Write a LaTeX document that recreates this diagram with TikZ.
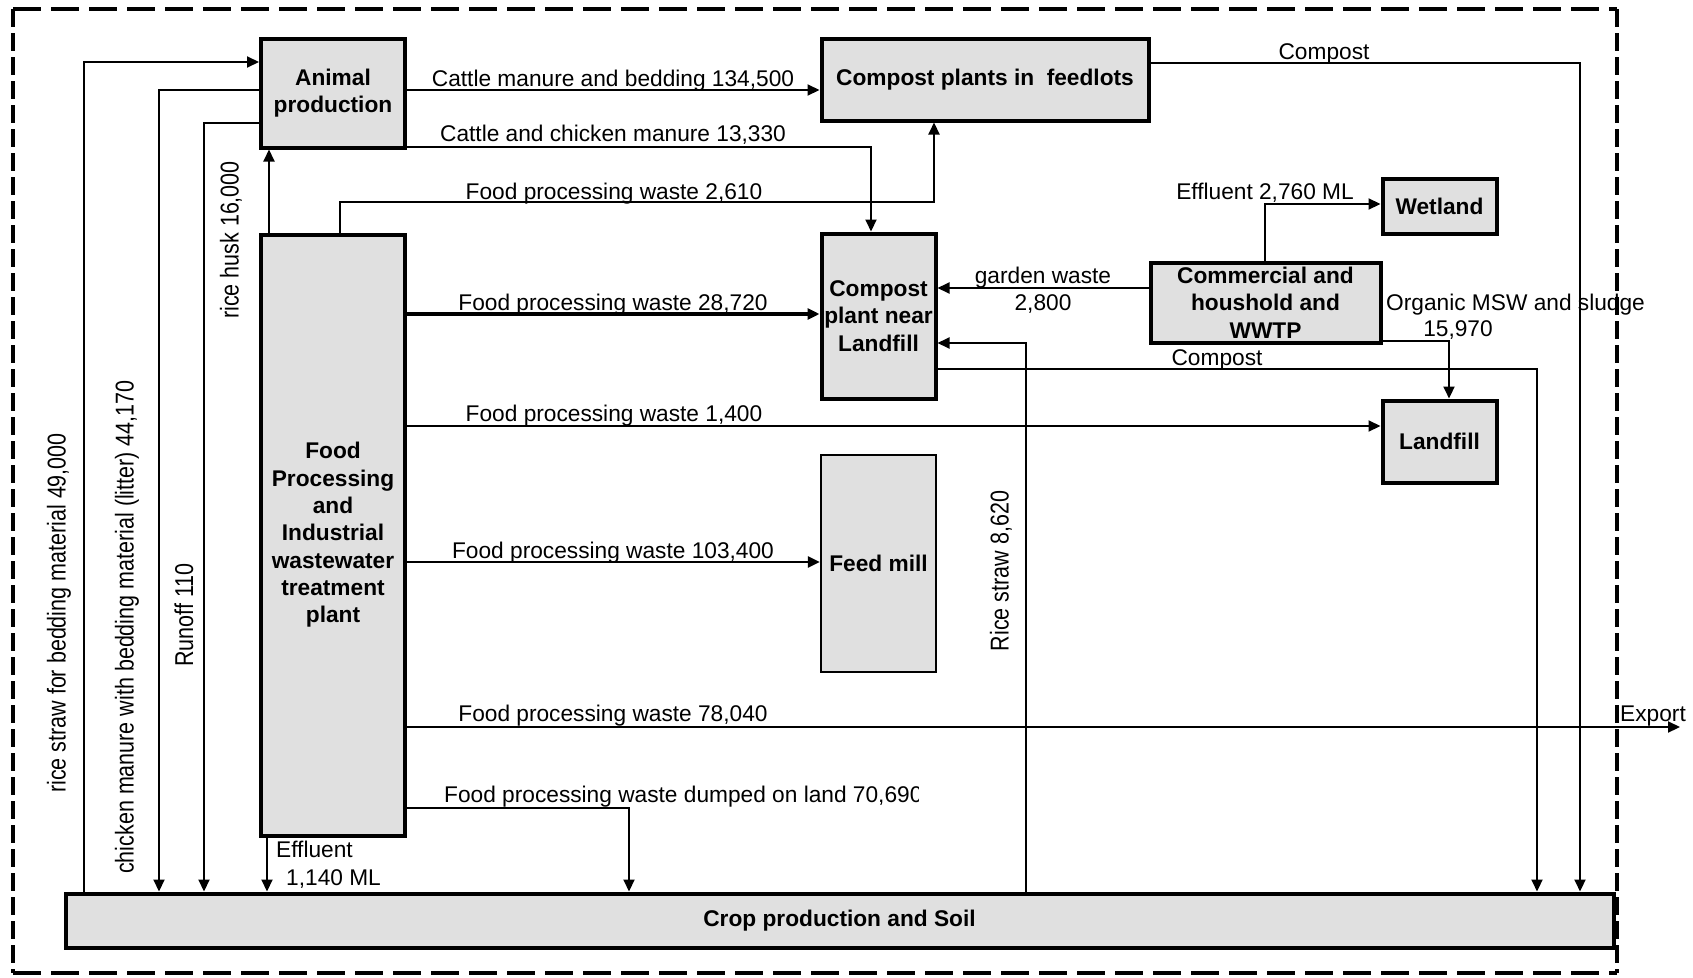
\documentclass[tikz,border=0pt]{standalone}
\usepackage{fontspec}
\setmainfont{Liberation Sans}
\usetikzlibrary{arrows.meta}
\definecolor{boxgray}{RGB}{224,224,224}
\begin{document}
\begin{tikzpicture}[x=1pt,y=-1pt,
  box/.style={draw=black, fill=boxgray, line width=4pt, inner sep=0pt, align=center,
              font=\bfseries\fontsize{22.7}{27.3}\selectfont},
  flow/.style={line width=2pt, -{Triangle[length=12pt,width=11pt]}},
  heavy/.style={line width=3.2pt},
  lbl/.style={inner sep=0pt, anchor=base, font=\fontsize{22.7}{27.3}\selectfont},
  vlbl/.style={inner sep=0pt, rotate=90, font=\fontsize{21.5}{26}\selectfont}
]
\useasboundingbox (0,0) rectangle (1693,977);

% system boundary
\draw[line width=3.5pt, dash pattern=on 28pt off 10pt] (13,9) -- (1617,9);
\draw[line width=3.5pt, dash pattern=on 28pt off 10pt] (13,973) -- (1617,973);
\draw[line width=3.5pt, dash pattern=on 18pt off 6pt] (13,9) -- (13,973);
\draw[line width=3.5pt, dash pattern=on 18pt off 6pt] (1617,9) -- (1617,973);

% processes
\node[box, minimum width=144pt, minimum height=109pt] (anim) at (333,93) {Animal\\production};
\node[box, minimum width=327pt, minimum height=82pt] (feedlot) at (985,79.5) {Compost plants in\ \ feedlots};
\node[box, minimum width=144pt, minimum height=601pt] (foodp) at (333,535)
  {Food\\Processing\\and\\Industrial\\wastewater\\treatment\\plant};
\node[box, minimum width=114pt, minimum height=165pt] (cpland) at (878.5,316) {Compost\\plant near\\Landfill};
\node[box, line width=2.5pt, minimum width=115pt, minimum height=217pt] (feedmill) at (878.5,563.5) {Feed mill};
\node[box, minimum width=114pt, minimum height=55pt] (wetland) at (1439.5,206) {Wetland};
\node[box, minimum width=230pt, minimum height=80pt] (commerc) at (1265.5,302.5) {Commercial and\\houshold and\\WWTP};
\node[box, minimum width=114pt, minimum height=82pt] (landfill) at (1439.5,441.5) {Landfill};
\node[box, minimum width=1548pt, minimum height=54pt] (crop) at (839.5,920.5) {Crop production and Soil};

% bend points of the flows
\coordinate (rsA) at (84,62);
\coordinate (cmA) at (159,90);
\coordinate (roA) at (204,123);
\coordinate (rh)  at (269,190);
\coordinate (cc)  at (871,147);
\coordinate (f1)  at (340,202);
\coordinate (f2)  at (934,202);
\coordinate (f3)  at (600,314);
\coordinate (f4)  at (600,426);
\coordinate (f5)  at (600,562);
\coordinate (exp) at (1680,727);
\coordinate (dm)  at (629,808);
\coordinate (ef)  at (267,860);
\coordinate (cf)  at (1580,63);
\coordinate (gw)  at (1000,288);
\coordinate (we)  at (1265,204);
\coordinate (om)  at (1449,341);
\coordinate (rs)  at (1026,343);
\coordinate (cm)  at (1537,369);

% flows
\draw[flow] (crop.north -| rsA) -- (rsA) -- (anim.west |- rsA);
\draw[flow] (anim.west |- cmA) -- (cmA) -- (crop.north -| cmA);
\draw[flow] (anim.west |- roA) -- (roA) -- (crop.north -| roA);
\draw[flow] (foodp.north -| rh) -- (anim.south -| rh);
\draw[flow] (anim.east |- cmA) -- (feedlot.west |- cmA);
\draw[flow] (anim.east |- cc) -- (cc) -- (cpland.north -| cc);
\draw[flow] (foodp.north -| f1) -- (f1) -- (f2) -- (feedlot.south -| f2);
\draw[flow, heavy] (foodp.east |- f3) -- (cpland.west |- f3);
\draw[flow] (foodp.east |- f4) -- (landfill.west |- f4);
\draw[flow, line width=2.6pt] (foodp.east |- f5) -- (feedmill.west |- f5);
\draw[flow] (foodp.east |- exp) -- (exp);
\draw[flow] (foodp.east |- dm) -- (dm) -- (crop.north -| dm);
\draw[flow] (foodp.south -| ef) -- (crop.north -| ef);
\draw[flow] (feedlot.east |- cf) -- (cf) -- (crop.north -| cf);
\draw[flow] (commerc.west |- gw) -- (cpland.east |- gw);
\draw[flow] (commerc.north -| we) -- (we) -- (wetland.west |- we);
\draw[flow] (commerc.east |- om) -- (om) -- (landfill.north -| om);
\draw[flow] (crop.north -| rs) -- (rs) -- (cpland.east |- rs);
\draw[flow] (cpland.east |- cm) -- (cm) -- (crop.north -| cm);

% flow labels
\node[lbl] (l1) at (613,86) {Cattle manure and bedding 134,500};
\node[lbl] (l2) at (613,141.7) {Cattle and chicken manure 13,330};
\node[lbl] (l3) at (614,199) {Food processing waste 2,610};
\node[lbl] (l4) at (613,310) {Food processing waste 28,720};
\node[lbl] (l5) at (614,421.7) {Food processing waste 1,400};
\node[lbl] (l6) at (613,558) {Food processing waste 103,400};
\node[lbl] (l7) at (613,721) {Food processing waste 78,040};
\begin{scope}
  \clip (430,760) rectangle (918,820);
  \node[lbl, anchor=base west] (l8) at (444,802) {Food processing waste dumped on land 70,690};
\end{scope}
\node[lbl, anchor=base west] (l9) at (276,857.7) {Effluent};
\node[lbl, anchor=base west] (l10) at (286,885) {1,140 ML};
\node[lbl] (l11) at (1324,59.3) {Compost};
\node[lbl] (l12) at (1265,199.3) {Effluent 2,760 ML};
\node[lbl] (l13) at (1043,283.3) {garden waste};
\node[lbl] (l14) at (1043,310) {2,800};
\node[lbl, anchor=base west] (l15) at (1386,310.7) {Organic MSW and sludge};
\node[lbl] (l16) at (1458,336) {15,970};
\node[lbl] (l17) at (1217,365) {Compost};
\node[lbl, anchor=base west] (l18) at (1620,721.7) {Export};

\node[vlbl] (v1) at (59,613) {\scalebox{1}[1.2]{rice straw for bedding material 49,000}};
\node[vlbl] (v2) at (127,627) {\scalebox{1}[1.2]{chicken manure with bedding material (litter) 44,170}};
\node[vlbl] (v3) at (184,615) {\scalebox{1}[1.2]{Runoff 110}};
\node[vlbl] (v4) at (231,240) {\scalebox{1}[1.2]{rice husk 16,000}};
\node[vlbl] (v5) at (1001,571) {\scalebox{1}[1.2]{Rice straw 8,620}};
\end{tikzpicture}
\end{document}
